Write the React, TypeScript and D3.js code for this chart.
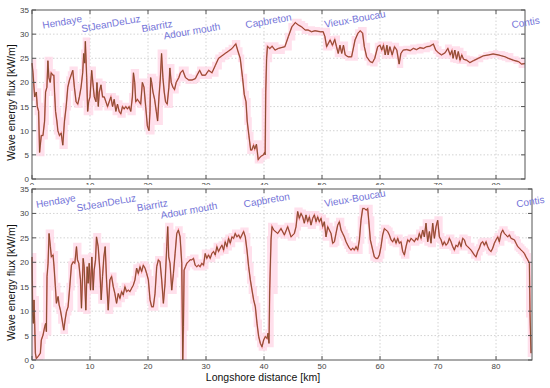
import React, { useEffect, useRef } from "react";
import * as d3 from "d3";

// longshore profile, upper panel: [km, kW/m]
const upperProfile: [number, number][] = [
  [0, 24], [0.17, 22], [0.46, 17], [0.74, 18], [0.91, 15], [1.14, 14], [1.31, 5.5], [1.6, 9], [1.89, 9],
  [2.17, 12], [2.34, 18], [2.57, 19], [2.74, 24.5], [2.91, 21], [3.14, 20], [3.31, 22], [3.6, 21.5],
  [3.77, 21.5], [3.89, 18], [4.06, 14], [4.29, 12], [4.46, 10], [4.74, 9], [5.03, 9.5], [5.31, 7],
  [5.6, 12], [5.89, 15], [6.17, 19], [6.46, 20.5], [6.74, 21.5], [7.03, 22.5], [7.31, 19], [7.6, 16],
  [7.89, 15.5], [8.17, 17], [8.46, 19], [8.74, 22], [8.91, 26], [9.09, 24], [9.2, 28.5], [9.43, 21],
  [9.6, 14], [9.77, 16], [10, 17], [10.29, 22.5], [10.57, 19], [10.74, 17], [11.03, 16], [11.2, 20],
  [11.43, 15], [11.6, 18], [11.89, 19.5], [12.17, 17], [12.46, 17], [12.74, 16], [13.03, 15],
  [13.31, 16], [13.6, 17], [13.89, 15], [14.17, 16.5], [14.46, 14], [14.74, 15.5], [15.03, 14],
  [15.31, 13.5], [15.6, 15], [15.89, 14.5], [16.17, 15], [16.46, 14.5], [16.74, 15], [17.03, 14],
  [17.31, 17], [17.49, 22], [17.71, 20], [17.89, 16], [18.17, 16.5], [18.46, 16], [18.74, 15.5],
  [19.03, 20], [19.31, 19], [19.6, 15], [19.89, 11], [20.17, 10], [20.34, 14], [20.46, 21],
  [20.63, 20], [20.86, 18], [21.14, 16.5], [21.43, 14], [21.66, 12], [21.89, 17], [22.11, 20.5],
  [22.34, 26], [22.57, 21], [22.8, 18], [23.03, 16], [23.31, 15.5], [23.6, 19], [23.77, 23],
  [24, 20], [24.29, 19], [24.57, 18.5], [24.86, 20], [25.31, 21], [25.6, 22], [26, 22.5],
  [26.46, 21], [27.03, 20.5], [27.6, 20.5], [28.17, 20.8], [28.46, 21.5], [28.91, 22.5], [29.31, 21.5],
  [29.89, 21.5], [30.46, 22.5], [31.03, 22], [31.6, 23.5], [32.17, 25], [32.74, 25.5], [33.31, 26],
  [33.89, 26.5], [34.46, 27], [35.14, 28], [35.5, 26.5], [35.9, 25], [36.3, 21], [36.6, 17.5],
  [36.9, 16], [37.1, 12], [37.4, 9], [37.7, 6], [37.9, 6], [38.2, 7], [38.4, 6.2], [38.7, 7.2],
  [39.0, 4], [39.3, 4.5], [39.6, 4.8], [39.9, 5], [40.1, 5.5], [40.2, 5], [40.3, 18], [40.45, 25],
  [40.6, 27.5], [41.0, 27], [41.4, 27.5], [41.9, 26.7], [42.5, 27.05], [43.6, 27.4], [44.2, 29.5],
  [44.8, 31.5], [45.4, 32.4], [45.9, 31.9], [46.5, 31.5], [47.1, 30.85], [47.6, 30.85], [48.2, 30.5],
  [48.8, 30.7], [49.7, 30.5], [50.2, 30.5], [50.5, 29.5], [50.8, 27.4], [51.4, 28.8], [51.8, 27.7],
  [52.2, 28.9], [52.5, 27.4], [52.8, 26], [53.1, 27.7], [53.4, 26], [53.7, 27.7], [54, 25.7],
  [54.5, 25.3], [55.1, 25.3], [55.7, 28.8], [56.2, 30.2], [56.6, 30.7], [57, 30.2], [57.3, 27.4],
  [57.7, 25.3], [58.3, 24.3], [58.7, 24.1], [59.1, 25], [59.6, 27.4], [60, 27.7], [60.3, 26.7],
  [60.6, 27.7], [60.9, 25.7], [61.2, 27.7], [61.4, 25.7], [61.7, 27.4], [62.1, 25.7], [62.5, 27.4],
  [62.9, 26.7], [63.3, 23.8], [63.6, 26], [64, 26.7], [64.6, 26.8], [65.2, 26.6], [65.75, 27.05],
  [66.3, 26.8], [66.9, 27.2], [67.5, 27.05], [68.05, 27.4], [68.6, 27.5], [69.2, 27.95], [69.6, 26.7],
  [70.1, 26.1], [70.6, 25.7], [71.2, 26.1], [71.7, 27.05], [72.1, 25.7], [72.4, 26.6], [72.6, 25],
  [72.9, 26.7], [73.2, 24.8], [73.5, 26.4], [73.8, 24.6], [74.1, 25.7], [74.4, 24.8], [74.95, 24.6],
  [75.5, 24.1], [76.1, 24.5], [76.96, 25], [77.8, 25.5], [78.7, 25.7], [79.5, 25.9], [80.4, 25.7],
  [81, 25.5], [81.6, 25.3], [82.1, 25], [83, 24.6], [83.9, 24.3], [84.4, 23.8], [85, 23.9],
];

// longshore profile, lower panel: [km, kW/m]
const lowerProfile: [number, number][] = [
  [0, 21.1], [0.12, 9.5], [0.23, 7.5], [0.35, 12.3], [0.46, 7.5], [0.58, 1.4], [0.75, 0.3], [1.04, 0.7],
  [1.21, 1.0], [1.44, 1.4], [1.61, 4.1], [1.9, 5.1], [2.19, 6.8], [2.36, 7.5], [2.48, 5.8], [2.59, 17.1],
  [2.77, 19.8], [2.94, 25.9], [3.17, 23.2], [3.34, 21.1], [3.63, 21.5], [3.8, 19.1], [4.03, 15],
  [4.21, 11.6], [4.5, 13], [4.67, 11.3], [4.9, 10.2], [5.19, 8.2], [5.48, 6.1], [5.71, 8.2], [5.94, 9.9],
  [6.22, 10.9], [6.51, 15], [6.8, 19.4], [7.09, 20.1], [7.38, 19.8], [7.67, 23.2], [7.84, 20.5],
  [8.07, 19.8], [8.36, 16.4], [8.53, 10.6], [8.82, 20.8], [8.99, 19.1], [9.28, 10.2], [9.51, 19.1],
  [9.68, 15.7], [9.86, 19.8], [10.09, 14.3], [10.32, 21.1], [10.55, 14.3], [10.72, 18.4], [10.95, 20.5],
  [11.12, 25.2], [11.41, 23.2], [11.7, 18.4], [11.93, 12.3], [12.16, 17.1], [12.39, 21.1], [12.62, 23.2],
  [12.85, 16.4], [13.14, 10.2], [13.43, 16.4], [13.72, 17.1], [14.01, 15], [14.29, 13.6], [14.58, 11.6],
  [14.87, 13.6], [15.16, 12.6], [15.45, 14], [15.73, 13.3], [16.02, 15], [16.31, 14], [16.6, 14.3],
  [16.89, 14], [17.18, 14.7], [17.46, 15.3], [17.75, 16.4], [18.04, 18.8], [18.33, 17.7], [18.62, 19.1],
  [18.9, 18.1], [19.19, 19.4], [19.48, 18.8], [19.77, 17.7], [20.06, 16.4], [20.35, 12.3], [20.63, 10.9],
  [20.92, 10.9], [21.21, 13.6], [21.5, 19.1], [21.79, 20.5], [22.07, 20.1], [22.36, 16.4], [22.65, 11.6],
  [22.94, 15.7], [23.23, 23.2], [23.4, 27.3], [23.57, 21.1], [23.8, 19.8], [24.09, 14.3], [24.38, 17.7],
  [24.67, 21.8], [24.96, 25.9], [25.24, 26.6], [25.53, 25.2], [25.82, 19.8], [25.99, 0], [26.11, 6.8],
  [26.22, 18.4], [26.46, 19.1], [26.69, 19.8], [26.97, 20.1], [27.26, 20.5], [27.55, 20.5], [27.84, 20.8],
  [28.13, 19.4], [28.41, 19.1], [28.7, 19.4], [28.99, 19.1], [29.28, 19.8], [29.57, 19.4], [29.86, 21.8],
  [30.14, 20.8], [30.43, 21.5], [30.72, 20.8], [31.01, 21.8], [31.3, 22.2], [31.59, 21.5], [31.87, 23.2],
  [32.16, 22.2], [32.45, 22.9], [32.74, 23.5], [33.03, 22.5], [33.31, 24.2], [33.6, 23.2], [33.89, 24.9],
  [34.18, 23.9], [34.47, 25.2], [34.76, 24.9], [35.04, 25.9], [35.33, 25.2], [35.62, 25.6], [35.91, 24.9],
  [36.2, 25.6], [36.48, 26.3], [36.77, 25.2], [37.06, 22.5], [37.35, 19.1], [37.64, 16.4], [37.93, 14.3],
  [38.21, 12.3], [38.5, 10.9], [38.79, 7.5], [39.08, 4.8], [39.37, 3.4], [39.65, 2.7], [39.94, 4.1],
  [40.23, 4.8], [40.52, 4.4], [40.69, 5.5], [40.86, 3.4], [40.98, 14.3], [41.21, 24.6], [41.38, 27.3],
  [41.67, 26.6], [42.36, 25.9], [42.93, 26.9], [43.51, 25.6], [44.08, 27.3], [44.66, 25.2], [45.23, 25.9],
  [45.52, 27.3], [45.8, 30.4], [46.09, 29], [46.38, 30], [46.67, 29.3], [46.95, 28], [47.24, 29.7],
  [47.53, 28.3], [47.82, 29.3], [48.1, 27.6], [48.39, 29], [48.68, 29.7], [48.97, 28.3], [49.25, 29.3],
  [49.54, 28.3], [49.83, 29], [50.11, 27.3], [50.4, 28.3], [50.69, 25.2], [50.98, 27.3], [51.26, 26.6],
  [51.55, 25.9], [51.84, 23.9], [52.13, 24.2], [52.41, 25.9], [52.7, 27.6], [52.99, 28.3], [53.28, 26.6],
  [53.56, 25.9], [53.85, 25.2], [54.14, 24.2], [54.43, 23.5], [54.71, 22.9], [55, 22.5], [55.29, 22.9],
  [55.57, 22.5], [55.86, 23.2], [56.15, 22.5], [56.44, 24.6], [56.72, 28.6], [57.01, 31], [57.3, 31],
  [57.59, 30.7], [57.87, 31], [58.05, 28.6], [58.33, 24.6], [58.74, 22.5], [59.02, 21.1], [59.31, 20.8],
  [59.6, 20.8], [59.89, 21.5], [60.17, 23.2], [60.46, 25.6], [60.75, 26.9], [61.03, 26.6], [61.32, 26.3],
  [61.61, 25.6], [61.9, 24.6], [62.18, 24.2], [62.47, 24.9], [62.76, 23.9], [63.05, 24.9], [63.33, 23.9],
  [63.62, 24.2], [63.91, 22.2], [64.2, 21.5], [64.48, 23.2], [64.77, 24.6], [65.06, 24.2], [65.34, 24.9],
  [65.63, 24.6], [65.92, 24.2], [66.21, 24.9], [66.49, 24.6], [66.78, 25.9], [67.07, 24.9], [67.36, 26.6],
  [67.64, 25.2], [67.93, 28], [68.22, 24.2], [68.51, 26.3], [68.79, 23.9], [69.08, 28], [69.37, 24.9],
  [69.66, 27.3], [69.94, 28.6], [70.23, 25.2], [70.52, 24.6], [70.8, 23.5], [71.09, 24.2], [71.38, 23.5],
  [71.67, 23.9], [71.95, 24.9], [72.24, 24.2], [72.53, 23.2], [72.82, 22.5], [73.1, 23.5], [73.39, 23.2],
  [73.68, 24.2], [73.97, 23.2], [74.25, 24.9], [74.54, 24.6], [74.83, 23.5], [75.11, 23.2], [75.69, 22.5],
  [76.26, 21.5], [76.55, 21.1], [76.84, 22.2], [77.13, 22.9], [77.41, 23.9], [77.7, 24.2], [77.99, 23.5],
  [78.28, 24.2], [78.56, 23.2], [78.85, 22.5], [79.14, 22.2], [79.43, 22.9], [79.71, 23.9], [80, 24.6],
  [80.29, 25.2], [80.57, 24.2], [80.86, 25.9], [81.15, 26.6], [81.44, 25.9], [81.72, 25.6], [82.01, 25.2],
  [82.3, 25.6], [82.59, 24.9], [83.16, 24.6], [83.45, 23.9], [83.74, 23.2], [84.02, 22.9], [84.31, 22.5],
  [84.6, 22.2], [84.89, 21.8], [85.17, 21.1], [85.46, 20.5], [85.75, 19.8], [85.86, 9.5], [86.03, 1.4],
];

const placeNames = ["Hendaye", "StJeanDeLuz", "Biarritz", "Adour mouth", "Capbreton", "Vieux-Boucau", "Contis"];
const upperPlaceKm = [1.9, 8.6, 19.0, 22.8, 36.9, 50.5, 82.8];
const lowerPlaceKm = [0.8, 7.8, 18.2, 22.3, 36.6, 50.5, 83.6];
const placeFlux = [31.1, 30.4, 30.4, 28.9, 31.2, 31.3, 31.2];

const yTicks = [0, 5, 10, 15, 20, 25, 30, 35];
const xTicks = [0, 10, 20, 30, 40, 50, 60, 70, 80];

const FONT = "'Liberation Sans', Arial, sans-serif";

const App: React.FC = () => {
  const svgRef = useRef<SVGSVGElement | null>(null);

  useEffect(() => {
    if (!svgRef.current) return;
    const svg = d3.select(svgRef.current);
    svg.selectAll("*").remove();

    svg.append("rect").attr("width", 550).attr("height", 388).attr("fill", "#fff");

    const drawPanel = (
      profile: [number, number][],
      placeKm: number[],
      box: { left: number; right: number; top: number; bottom: number },
      xMax: number
    ) => {
      const x = d3.scaleLinear().domain([0, xMax]).range([box.left, box.right]);
      const y = d3.scaleLinear().domain([0, 35]).range([box.bottom, box.top]);
      const g = svg.append("g");

      // white sheet, hides most of the panel above's tick labels
      g.append("rect")
        .attr("x", box.left - 28)
        .attr("y", box.top - 4)
        .attr("width", box.right - box.left + 60)
        .attr("height", 388 - box.top)
        .attr("fill", "#fff");

      // grid
      g.selectAll(".gx")
        .data(xTicks.filter((t) => t > 0 && t < xMax))
        .join("line")
        .attr("x1", (d) => x(d))
        .attr("x2", (d) => x(d))
        .attr("y1", box.top)
        .attr("y2", box.bottom)
        .attr("stroke", "#c8c8c8")
        .attr("stroke-width", 0.8)
        .attr("stroke-dasharray", "1.5,2");
      g.selectAll(".gy")
        .data(yTicks.filter((t) => t > 0 && t < 35))
        .join("line")
        .attr("x1", box.left)
        .attr("x2", box.right)
        .attr("y1", (d) => y(d))
        .attr("y2", (d) => y(d))
        .attr("stroke", "#c8c8c8")
        .attr("stroke-width", 0.8)
        .attr("stroke-dasharray", "1.5,2");

      // pink spread band from local min / max
      const band = profile.map(([k]) => {
        const near = profile.filter(([kk]) => Math.abs(kk - k) <= 0.7).map((p) => p[1]);
        return { k, lo: Math.max(0, d3.min(near)! - 0.8), hi: Math.min(35, d3.max(near)! + 0.8) };
      });
      const area = d3
        .area<{ k: number; lo: number; hi: number }>()
        .x((d) => x(d.k))
        .y0((d) => y(d.lo))
        .y1((d) => y(d.hi))
        .curve(d3.curveStepAfter);
      g.append("path").attr("d", area(band)!).attr("fill", "#ffd6e5").attr("opacity", 0.75);

      const line = d3
        .line<[number, number]>()
        .x((d) => x(d[0]))
        .y((d) => y(d[1]));
      g.append("path")
        .attr("d", line(profile)!)
        .attr("fill", "none")
        .attr("stroke", "#e02828")
        .attr("stroke-width", 1.5)
        .attr("opacity", 0.55);
      g.append("path")
        .attr("d", line(profile)!)
        .attr("fill", "none")
        .attr("stroke", "#7a4a28")
        .attr("stroke-width", 0.9);

      // frame + ticks
      g.append("rect")
        .attr("x", box.left)
        .attr("y", box.top)
        .attr("width", box.right - box.left)
        .attr("height", box.bottom - box.top)
        .attr("fill", "none")
        .attr("stroke", "#555")
        .attr("stroke-width", 1);
      yTicks.forEach((t) => {
        g.append("line").attr("x1", box.left).attr("x2", box.left + 4).attr("y1", y(t)).attr("y2", y(t)).attr("stroke", "#555");
        g.append("line").attr("x1", box.right).attr("x2", box.right - 4).attr("y1", y(t)).attr("y2", y(t)).attr("stroke", "#555");
      });
      xTicks.filter((t) => t <= xMax).forEach((t) => {
        g.append("line").attr("x1", x(t)).attr("x2", x(t)).attr("y1", box.bottom).attr("y2", box.bottom - 4).attr("stroke", "#555");
        g.append("line").attr("x1", x(t)).attr("x2", x(t)).attr("y1", box.top).attr("y2", box.top + 4).attr("stroke", "#555");
      });

      g.selectAll(".yl")
        .data(yTicks)
        .join("text")
        .attr("x", box.left - 3)
        .attr("y", (d) => y(d) + 3)
        .attr("text-anchor", "end")
        .attr("font-family", FONT)
        .attr("font-size", 8)
        .attr("fill", "#444")
        .text((d) => d);

      g.selectAll(".xl")
        .data(xTicks)
        .join("text")
        .attr("x", (d) => x(d))
        .attr("y", box.bottom + 9)
        .attr("text-anchor", "middle")
        .attr("font-family", FONT)
        .attr("font-size", 8)
        .attr("fill", "#444")
        .text((d) => d);

      g.selectAll(".pl")
        .data(placeNames)
        .join("text")
        .attr("transform", (_d, i) => `translate(${x(placeKm[i])},${y(placeFlux[i])}) rotate(-10)`)
        .attr("font-family", FONT)
        .attr("font-size", 10)
        .attr("fill", "#7474d8")
        .text((d) => d);

      g.append("text")
        .attr("transform", `translate(15,${(box.top + box.bottom) / 2 + 8}) rotate(-90)`)
        .attr("text-anchor", "middle")
        .attr("font-family", FONT)
        .attr("font-size", 10.5)
        .attr("fill", "#111")
        .text("Wave energy flux [kW/m]");
    };

    drawPanel(upperProfile, upperPlaceKm, { left: 32, right: 525, top: 10, bottom: 179 }, 85);
    drawPanel(lowerProfile, lowerPlaceKm, { left: 32, right: 532, top: 189, bottom: 360 }, 86.2);

    svg
      .append("text")
      .attr("x", 263)
      .attr("y", 381)
      .attr("text-anchor", "middle")
      .attr("font-family", FONT)
      .attr("font-size", 10.5)
      .attr("fill", "#111")
      .text("Longshore distance [km]");
  }, []);

  return (
    <svg
      ref={svgRef}
      width={550}
      height={388}
      style={{ position: "absolute", left: 0, top: 0, display: "block" }}
    />
  );
};

export default App;
